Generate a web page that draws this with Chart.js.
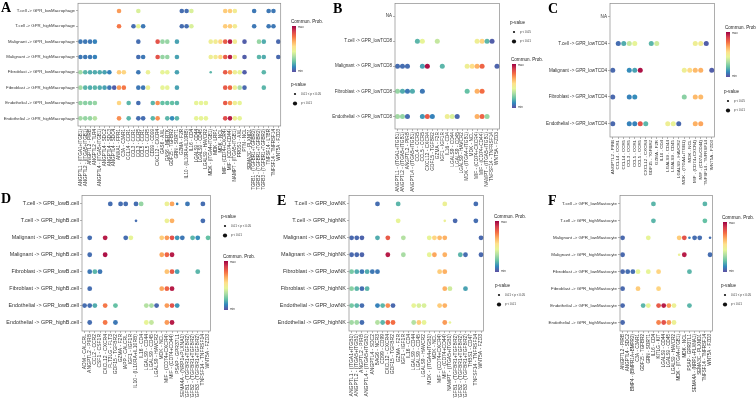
<!DOCTYPE html>
<html>
<head>
<meta charset="utf-8">
<script src="https://cdn.jsdelivr.net/npm/chart.js@4"></script>
<style>
  html, body { margin: 0; padding: 0; background: #fff; width: 756px; height: 399px; overflow: hidden; }
  canvas { position: absolute; }
</style>
</head>
<body>
<canvas id="overlay" width="756" height="399" style="left:0;top:0"></canvas>
<script>
// ---------- data ----------
// dots: [column, row, commun. prob (0 = min .. 1 = max), significance (1 = p<0.01, 0 = 0.01<p<0.05)]

// A : macrophage
const aX = ["ANGPTL1 - (ITGA1+ITGB1)", "ANGPTL2 - (ITGA5+ITGB1)", "ANGPTL2 - PIRB", "ANGPTL2 - TLR4",
  "ANGPTL4 - (ITGA5+ITGB1)", "ANGPTL4 - SDC2", "ANGPTL4 - SDC3", "ANGPTL4 - SDC4", "ANXA1 - FPR1",
  "C3A - C3AR1", "CCL14 - CCR1", "CCL3 - CCR1", "CCL3 - CCR5", "CCL5 - CCR1", "CCL5 - CCR5",
  "CD99 - CD99", "CXCL12 - CXCR4", "GAS6 - AXL", "GAS6 - MERTK", "GDF15 - TGFBR2", "GRN - SORT1",
  "GZMA - F2R", "IL10 - (IL10RA+IL10RB)", "IL16 - CD4", "LGALS9 - CD44", "LGALS9 - CD45",
  "LGALS9 - HAVCR2", "MDK - (ITGA4+ITGB1)", "MDK - LRP1", "MDK - NCL", "MIF - (CD74+CXCR4)",
  "MIF - (CD74+CD44)", "NAMPT - (ITGA5+ITGB1)", "PROS1 - AXL", "PTN - NCL", "SEMA3C - PLXND1",
  "TGFB1 - (TGFBR1+TGFBR2)", "TGFB2 - (TGFBR1+TGFBR2)", "TGFB3 - (TGFBR1+TGFBR2)",
  "TNFSF14 - LTBR", "TNFSF14 - TNFRSF14", "WNT5A - FZD3"];
const aY = ["T.cell -> GPR_lowMacrophage", "T.cell -> GPR_highMacrophage", "Malignant -> GPR_lowMacrophage",
  "Malignant -> GPR_highMacrophage", "Fibroblast -> GPR_lowMacrophage", "Fibroblast -> GPR_highMacrophage",
  "Endothelial -> GPR_lowMacrophage", "Endothelial -> GPR_highMacrophage"];
const aDots = [
  [8,0,.7,1],[12,0,.42,1],[21,0,.06,1],[22,0,.06,1],[23,0,.42,1],[30,0,.6,1],[31,0,.6,1],[32,0,.5,1],[36,0,.08,1],[39,0,.08,1],[40,0,.08,1],
  [8,1,.76,1],[11,1,.06,1],[12,1,.45,1],[13,1,.08,1],[21,1,.06,1],[22,1,.06,1],[23,1,.42,1],[30,1,.6,1],[31,1,.6,1],[32,1,.5,1],[36,1,.08,1],[39,1,.08,1],[40,1,.08,1],
  [0,2,.08,1],[1,2,.08,1],[2,2,.08,1],[3,2,.1,1],[12,2,.06,1],[16,2,.84,1],[17,2,.3,1],[18,2,.3,1],[20,2,.16,1],[27,2,.48,1],[28,2,.5,1],[29,2,.58,1],[30,2,.82,1],[31,2,.95,1],[32,2,.5,1],[34,2,.03,1],[37,2,.3,1],[38,2,.18,1],[41,2,.05,1],
  [0,3,.08,1],[1,3,.08,1],[2,3,.08,1],[3,3,.1,1],[12,3,.06,1],[13,3,.08,1],[16,3,.84,1],[17,3,.3,1],[18,3,.3,1],[20,3,.16,1],[27,3,.48,1],[28,3,.5,1],[29,3,.58,1],[30,3,.82,1],[31,3,.95,1],[32,3,.5,1],[34,3,.03,1],[37,3,.2,1],[38,3,.18,1],[41,3,.05,1],
  [0,4,.32,1],[1,4,.2,1],[2,4,.18,1],[3,4,.18,1],[4,4,.18,1],[5,4,.16,1],[6,4,.1,1],[8,4,.6,1],[9,4,.58,1],[12,4,.08,1],[14,4,.47,1],[17,4,.45,1],[18,4,.45,1],[20,4,.16,1],[27,4,.2,0],[30,4,.82,1],[31,4,.72,1],[32,4,.48,1],[33,4,.45,1],[34,4,.03,1],[38,4,.2,1],
  [0,5,.32,1],[1,5,.2,1],[2,5,.18,1],[3,5,.2,1],[4,5,.18,1],[5,5,.16,1],[6,5,.08,1],[7,5,.03,1],[8,5,.7,1],[9,5,.76,1],[12,5,.08,1],[13,5,.08,1],[14,5,.47,1],[17,5,.45,1],[18,5,.45,1],[20,5,.16,1],[30,5,.82,1],[31,5,.8,1],[32,5,.48,1],[33,5,.34,1],[34,5,.05,1],[38,5,.2,1],
  [0,6,.3,1],[1,6,.28,1],[2,6,.28,1],[3,6,.3,1],[8,6,.58,1],[10,6,.2,1],[12,6,.06,1],[15,6,.2,1],[16,6,.72,1],[17,6,.22,1],[18,6,.22,1],[19,6,.22,1],[20,6,.2,1],[24,6,.45,1],[25,6,.45,1],[26,6,.45,1],[30,6,.82,1],[31,6,.72,1],[32,6,.48,1],[33,6,.45,1],
  [0,7,.32,1],[1,7,.3,1],[2,7,.3,1],[3,7,.35,1],[8,7,.72,1],[10,7,.2,1],[12,7,.06,1],[13,7,.06,1],[15,7,.2,1],[16,7,.72,1],[18,7,.2,1],[19,7,.12,1],[20,7,.2,1],[24,7,.45,1],[25,7,.45,1],[26,7,.45,1],[30,7,.85,1],[31,7,.95,1],[32,7,.48,1],[33,7,.45,1]
];

// B : CD8 T cell
const bX = ["ANGPTL1 - (ITGA1+ITGB1)", "ANGPTL2 - (ITGA5+ITGB1)", "ANGPTL2 - PIRB", "ANGPTL4 - (ITGA5+ITGB1)",
  "CCL4 - CCR5", "CCL5 - CCR5", "CXCL12 - CXCR4", "GDF15 - TGFBR2", "GZMA - F2R", "IGF1 - IGF1R",
  "IL16 - CD4", "LGALS9 - CD44", "LGALS9 - CD45", "LGALS9 - HAVCR2", "MDK - (ITGA4+ITGB1)", "MDK - NCL",
  "MIF - (CD74+CXCR4)", "MIF - (CD74+CD44)", "NAMPT - (ITGA5+ITGB1)", "TNFSF14 - TNFRSF14", "WNT5A - FZD3"];
const bY = ["NA", "T.cell -> GPR_lowTCD8", "Malignant -> GPR_lowTCD8", "Fibroblast -> GPR_lowTCD8", "Endothelial -> GPR_lowTCD8"];
const bDots = [
  [4,1,.2,1],[5,1,.45,1],[8,1,.38,1],[16,1,.48,1],[17,1,.58,1],[18,1,.2,1],[19,1,.03,1],
  [0,2,.06,1],[1,2,.06,1],[2,2,.06,1],[5,2,.16,1],[6,2,.97,1],[9,2,.2,1],[14,2,.48,1],[15,2,.56,1],[16,2,.66,1],[17,2,.8,1],[20,2,.04,1],
  [0,3,.3,1],[1,3,.18,1],[2,3,.08,1],[3,3,.18,1],[5,3,.08,1],[14,3,.22,1],[16,3,.66,1],[17,3,.78,1],
  [0,4,.32,1],[1,4,.3,1],[2,4,.06,1],[5,4,.14,1],[6,4,.82,1],[7,4,.1,1],[10,4,.48,1],[11,4,.42,1],[12,4,.05,1],[16,4,.66,1],[17,4,.8,1],[18,4,.3,1]
];

// C : CD4 T cell
const cX = ["ANGPTL2 - PIRB", "CCL14 - CCR1", "CCL14 - CCR5", "CCL3 - CCR5", "CCL5 - CCR1", "CCL5 - CCR5",
  "CXCL12 - CXCR4", "GDF15 - TGFBR2", "GZMA - F2R", "IL16 - CD4", "LGALS9 - CD44", "LGALS9 - CD45",
  "LGALS9 - HAVCR2", "MDK - (ITGA4+ITGB1)", "MDK - NCL", "MIF - (CD74+CXCR4)", "MIF - (CD74+CD44)",
  "TNFSF14 - TNFRSF14", "WNT5A - FZD3"];
const cY = ["NA", "T.cell -> GPR_lowTCD4", "Malignant -> GPR_lowTCD4", "Fibroblast -> GPR_lowTCD4", "Endothelial -> GPR_lowTCD4"];
const cDots = [
  [1,1,.06,1],[2,1,.18,1],[3,1,.38,1],[4,1,.45,1],[7,1,.2,1],[8,1,.4,1],[15,1,.48,1],[16,1,.5,1],[17,1,.03,1],
  [0,2,.05,1],[3,2,.12,1],[4,2,.16,1],[5,2,.97,1],[13,2,.48,1],[14,2,.57,1],[15,2,.64,1],[16,2,.66,1],[18,2,.03,1],
  [0,3,.05,1],[3,3,.1,1],[4,3,.12,1],[13,3,.28,1],[15,3,.64,1],[16,3,.64,1],
  [0,4,.05,1],[3,4,.1,1],[4,4,.1,1],[5,4,.84,1],[6,4,.2,1],[10,4,.48,1],[11,4,.46,1],[12,4,.05,1],[15,4,.66,1],[16,4,.68,1]
];

// D : B cell
const dX = ["ADM - CALCRL", "ANGPTL2 - PIRB", "CCL2 - CCR2", "CSF1 - CSF1R", "CXCL12 - CXCR4", "FLT3LG - FLT3",
  "GDF15 - TGFBR2", "GZMA - F2R", "IAPP - CALCRL", "IGF1 - IGF1R", "IL10 - (IL10RA+IL10RB)", "IL16 - CD4",
  "LGALS9 - CD44", "LGALS9 - CD45", "LGALS9 - HAVCR2", "MDK - NCL", "MIF - (CD74+CXCR4)", "MIF - (CD74+CD44)",
  "PSAP - GPR37L1", "SEMA4A - (NRP1+PLXNA1)", "TGFB1 - (TGFBR1+TGFBR2)", "TGFB2 - (TGFBR1+TGFBR2)",
  "TGFB3 - (TGFBR1+TGFBR2)", "TNFSF14 - TNFRSF14", "WNT5A - FZD3"];
const dY = ["T.cell -> GPR_lowB.cell", "T.cell -> GPR_highB.cell", "Malignant -> GPR_lowB.cell", "Malignant -> GPR_highB.cell",
  "Fibroblast -> GPR_lowB.cell", "Fibroblast -> GPR_highB.cell", "Endothelial -> GPR_lowB.cell", "Endothelial -> GPR_highB.cell"];
const dDots = [
  [5,0,.06,1],[7,0,.06,1],[8,0,.06,1],[10,0,.06,1],[11,0,.3,1],[16,0,.47,1],[17,0,.68,1],[18,0,.1,0],[20,0,.08,1],[23,0,.06,1],
  [10,1,.06,0],[16,1,.47,1],[17,1,.66,1],[23,1,.06,1],
  [1,2,.06,1],[4,2,.95,1],[8,2,.06,1],[9,2,.45,1],[15,2,.6,1],[16,2,.7,1],[17,2,.84,1],[18,2,.14,1],[19,2,.08,1],[21,2,.2,1],[22,2,.12,1],[24,2,.22,1],
  [1,3,.06,1],[4,3,.97,1],[15,3,.68,1],[16,3,.8,1],[17,3,.95,1],
  [1,4,.08,1],[2,4,.2,1],[3,4,.08,1],[16,4,.62,1],[17,4,.82,1],[18,4,.16,1],[22,4,.2,1],
  [1,5,.06,1],[15,5,.68,1],[16,5,.8,1],[17,5,.95,1],
  [0,6,.06,1],[1,6,.06,1],[2,6,.18,1],[4,6,.76,1],[6,6,.22,1],[12,6,.35,1],[13,6,.33,1],[14,6,.05,1],[16,6,.7,1],[17,6,.84,1],[18,6,.14,1],
  [1,7,.06,1],[4,7,.76,1],[6,7,.08,1],[12,7,.45,1],[13,7,.38,1],[16,7,.7,1],[17,7,.95,1]
];

// E : NK
const eX = ["ANGPTL1 - (ITGA1+ITGB1)", "ANGPTL2 - (ITGA5+ITGB1)", "ANGPTL2 - PIRB", "ANGPTL4 - (ITGA5+ITGB1)",
  "ANGPTL4 - SDC2", "BAG6 - NCR3", "CD99 - CD99", "CXCL12 - CXCR4", "GDF15 - TGFBR2", "GZMA - F2R",
  "IGF1 - IGF1R", "IL16 - CD4", "LGALS9 - CD44", "LGALS9 - CD45", "LGALS9 - HAVCR2", "MDK - (ITGA4+ITGB1)",
  "MDK - NCL", "MIF - (CD74+CXCR4)", "MIF - (CD74+CD44)", "NAMPT - (ITGA5+ITGB1)", "TGFB1 - (TGFBR1+TGFBR2)",
  "TGFB2 - (TGFBR1+TGFBR2)", "TGFB3 - (TGFBR1+TGFBR2)", "THBS1 - CD47", "TNFSF14 - TNFRSF14", "WNT5A - FZD3"];
const eY = ["T.cell -> GPR_lowNK", "T.cell -> GPR_highNK", "Malignant -> GPR_lowNK", "Malignant -> GPR_highNK",
  "Fibroblast -> GPR_lowNK", "Fibroblast -> GPR_highNK", "Endothelial -> GPR_lowNK", "Endothelial -> GPR_highNK"];
const eDots = [
  [5,0,.06,1],[9,0,.2,1],[18,0,.47,1],[24,0,.06,1],
  [9,1,.45,1],[18,1,.47,0],[20,1,.05,1],[24,1,.06,1],
  [0,2,.05,1],[1,2,.05,1],[2,2,.04,1],[5,2,.18,1],[7,2,.82,1],[10,2,.35,1],[15,2,.45,1],[16,2,.58,1],[17,2,.64,1],[18,2,.66,1],[25,2,.05,1],
  [0,3,.05,1],[1,3,.05,1],[2,3,.04,1],[7,3,.95,1],[10,3,.33,1],[15,3,.45,1],[16,3,.68,1],[18,3,.66,1],[21,3,.2,1],[22,3,.06,1],[25,3,.05,1],
  [0,4,.25,1],[1,4,.18,1],[2,4,.08,1],[3,4,.18,1],[4,4,.08,1],[5,4,.08,1],[17,4,.6,1],[18,4,.66,1],
  [0,5,.28,1],[1,5,.2,1],[2,5,.06,1],[3,5,.2,1],[18,5,.66,1],[19,5,.4,1],[22,5,.16,1],
  [0,6,.25,1],[1,6,.2,1],[2,6,.06,1],[5,6,.1,1],[6,6,.2,1],[7,6,.72,1],[8,6,.05,1],[12,6,.45,1],[13,6,.42,1],[14,6,.42,1],[17,6,.6,1],[18,6,.66,1],
  [0,7,.32,1],[1,7,.32,1],[2,7,.06,1],[5,7,.35,1],[6,7,.2,1],[7,7,.8,1],[8,7,.78,1],[12,7,.35,1],[13,7,.6,1],[14,7,.45,1],[18,7,.7,1],[19,7,.45,0]
];

// F : mastocyte
const fX = ["ANGPTL2 - PIRB", "ANGPTL4 - SDC2", "BMP4 - (BMPR1A+BMPR2)", "C3A - C3AR1", "GDF15 - TGFBR2",
  "GRN - SORT1", "IL16 - CD4", "KITLG - KIT", "LGALS9 - CD44", "LGALS9 - CD45", "LGALS9 - HAVCR2",
  "MDK - (ITGA4+ITGB1)", "MDK - NCL", "PSAP - GPR37L1", "SEMA4A - (NRP1+PLXNA1)", "SEMA3C - PLXND1",
  "TNFSF14 - TNFRSF14", "WNT5A - FZD3"];
const fY = ["T.cell -> GPR_lowMastocyte", "T.cell -> GPR_highMastocyte", "Malignant -> GPR_lowMastocyte",
  "Malignant -> GPR_highMastocyte", "Fibroblast -> GPR_lowMastocyte", "Fibroblast -> GPR_highMastocyte",
  "Endothelial -> GPR_lowMastocyte", "Endothelial -> GPR_highMastocyte"];
const fDots = [
  [6,0,.2,1],[16,0,.2,1],
  [6,1,.2,1],[16,1,.22,1],
  [0,2,.05,1],[5,2,.45,1],[11,2,.6,1],[12,2,.84,1],[13,2,.1,0],[14,2,.06,1],[15,2,.06,1],[17,2,.06,0],
  [0,3,.05,1],[11,3,.47,0],[12,3,.95,1],[17,3,.06,1],
  [0,4,.05,1],[1,4,.06,1],[2,4,.06,1],[3,4,.45,1],[5,4,.45,1],[7,4,.58,1],[13,4,.2,1],
  [0,5,.05,1],[3,5,.6,1],[7,5,.58,1],
  [0,6,.05,1],[4,6,.2,1],[5,6,.45,1],[7,6,.82,1],[8,6,.95,1],[9,6,.7,1],[10,6,.47,1],[13,6,.2,1],
  [0,7,.05,1],[7,7,.74,1],[8,7,.84,1],[9,7,.7,1],[10,7,.47,1]
];

// ---------- colours ----------
const spectral = ["#5E4FA2", "#3288BD", "#66C2A5", "#ABDDA4", "#E6F598", "#FEE08B", "#FDAE61", "#F46D43", "#D53E4F", "#9E0142"];

function hexRgb(h) {
  return [1, 3, 5].map(i => parseInt(h.slice(i, i + 2), 16));
}
function probColor(v) {
  const p = Math.min(Math.max(v, 0), 1) * (spectral.length - 1);
  const i = Math.min(Math.floor(p), spectral.length - 2), t = p - i;
  const a = hexRgb(spectral[i]), b = hexRgb(spectral[i + 1]);
  return "rgb(" + a.map((c, k) => Math.round(c + (b[k] - c) * t)).join(",") + ")";
}

const FAM = "'Liberation Sans', Arial, sans-serif";

// panel frame (ggplot border)
const frame = {
  id: "frame",
  afterDraw(c) {
    const a = c.chartArea, x = c.ctx;
    x.save();
    x.strokeStyle = "#8a8a8a";
    x.lineWidth = 0.7;
    x.strokeRect(a.left, a.top, a.right - a.left, a.bottom - a.top);
    x.restore();
  }
};

function drawPanel(xs, ys, dots, box, f) {
  const cv = document.createElement("canvas");
  cv.width = box.r - box.l + f.yW + 1;
  cv.height = box.b - box.t + f.xH + 1;
  cv.style.left = (box.l - f.yW) + "px";
  cv.style.top = (box.t - 1) + "px";
  document.body.appendChild(cv);

  new Chart(cv, {
    type: "bubble",
    data: {
      datasets: [{
        data: dots.map(d => ({ x: xs[d[0]], y: ys[d[1]], r: d[3] ? f.r : f.r * 0.55 })),
        backgroundColor: dots.map(d => probColor(d[2])),
        borderWidth: 0,
        hoverRadius: 0
      }]
    },
    options: {
      responsive: false,
      animation: false,
      events: [],
      layout: { padding: { top: 1, right: 1, left: 0, bottom: 0 } },
      plugins: { legend: { display: false }, tooltip: { enabled: false } },
      scales: {
        x: {
          type: "category", labels: xs, offset: true,
          grid: { drawOnChartArea: false, tickLength: 2, lineWidth: 0.6, tickColor: "#808080" },
          border: { display: false },
          ticks: { autoSkip: false, minRotation: 90, maxRotation: 90, padding: 1, color: "#333", font: { size: f.fx, family: FAM } },
          afterFit: s => { s.height = f.xH; s.paddingLeft = 0; s.paddingRight = 0; }
        },
        y: {
          type: "category", labels: ys, offset: true,
          grid: { drawOnChartArea: false, tickLength: 2, lineWidth: 0.6, tickColor: "#808080" },
          border: { display: false },
          ticks: { autoSkip: false, padding: 1, color: "#333", font: { size: f.fy, family: FAM } },
          afterFit: s => { s.width = f.yW; s.paddingTop = 0; s.paddingBottom = 0; }
        }
      }
    },
    plugins: [frame]
  });
}

// ---------- legends and panel letters ----------
const o = document.getElementById("overlay").getContext("2d");

function colorBar(x, y, h) {
  o.fillStyle = "#222";
  o.font = "4.6px " + FAM;
  o.textBaseline = "alphabetic";
  o.fillText("Commun. Prob.", x - 1, y - 3);
  const g = o.createLinearGradient(0, y + h, 0, y);
  spectral.forEach((c, i) => g.addColorStop(i / (spectral.length - 1), c));
  o.fillStyle = g;
  o.fillRect(x, y, 4, h);
  o.fillStyle = "#333";
  o.font = "3px " + FAM;
  o.textBaseline = "middle";
  o.fillText("max", x + 6, y + 1.5);
  o.fillText("min", x + 6, y + h - 1);
}

function pLegend(x, y, labels) {
  o.fillStyle = "#222";
  o.font = "4.6px " + FAM;
  o.textBaseline = "alphabetic";
  o.fillText("p-value", x - 1, y);
  o.font = "3px " + FAM;
  o.textBaseline = "middle";
  labels.forEach((t, i) => {
    const cy = y + 8 + i * 9.5;
    o.fillStyle = "#111";
    o.beginPath();
    o.arc(x + 3, cy, i ? 2.1 : 1.1, 0, Math.PI * 2);
    o.fill();
    o.fillStyle = "#333";
    o.fillText(t, x + 9, cy);
  });
}

function letter(t, x, y) {
  o.fillStyle = "#000";
  o.font = "bold 14px 'Liberation Serif', 'DejaVu Serif', serif";
  o.textBaseline = "alphabetic";
  o.fillText(t, x, y);
}

const pLong = ["0.01 < p < 0.05", "p < 0.01"];
const pShort = ["p < 0.05", "p < 0.01"];

// ---------- draw ----------
drawPanel(aX, aY, aDots, { l: 78, t: 2, r: 282, b: 126 }, { yW: 78, xH: 66, fx: 4.6, fy: 4.3, r: 2.3 });
drawPanel(bX, bY, bDots, { l: 395, t: 2, r: 501, b: 129 }, { yW: 64, xH: 64, fx: 4.8, fy: 4.5, r: 2.5 });
drawPanel(cX, cY, cDots, { l: 610, t: 2, r: 716, b: 137 }, { yW: 64, xH: 56, fx: 4.4, fy: 4.6, r: 2.5 });
drawPanel(dX, dY, dDots, { l: 82, t: 194, r: 212, b: 331 }, { yW: 80, xH: 67, fx: 5, fy: 5.4, r: 2.4 });
drawPanel(eX, eY, eDots, { l: 349, t: 194, r: 485, b: 331 }, { yW: 74, xH: 67, fx: 5, fy: 5.5, r: 2.4 });
drawPanel(fX, fY, fDots, { l: 620, t: 194, r: 714, b: 331 }, { yW: 73, xH: 67, fx: 4.6, fy: 4.4, r: 2.4 });

letter("A", 1, 12);
letter("B", 333, 13);
letter("C", 548, 13);
letter("D", 1, 203);
letter("E", 277, 205);
letter("F", 548, 205);

colorBar(292, 26, 46);   pLegend(292, 86, pLong);
pLegend(511, 24, pShort); colorBar(512, 64, 44);
colorBar(726, 32, 45);   pLegend(725, 93, pShort);
pLegend(222, 218, pLong); colorBar(224, 261, 49);
colorBar(495, 221, 51);  pLegend(496, 287, pLong);
colorBar(723, 222, 50);  pLegend(722, 287, pLong);
</script>
</body>
</html>
